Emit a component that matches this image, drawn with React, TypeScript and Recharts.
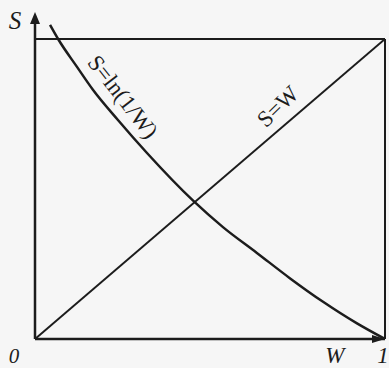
import React from "react";
import { LineChart, Line, XAxis, YAxis, ReferenceLine, ReferenceDot } from "recharts";

// curve S = ln(1/W) (W, S)
const curveW = [0.043, 0.066, 0.12, 0.166, 0.237, 0.32, 0.451, 0.537, 0.634, 0.729, 0.823, 0.92, 1];
const curveS = [1.047, 1.0, 0.907, 0.83, 0.73, 0.62, 0.462, 0.373, 0.287, 0.202, 0.124, 0.052, 0];

// straight line S = W
const diagW = [0, 1];
const diagS = [0, 1];

const curveData = curveW.map((w, i) => ({ w, s: curveS[i] }));
const diagData = diagW.map((w, i) => ({ w, s: diagS[i] }));

const INK = "#1c1c1c";
const SERIF = "'Liberation Serif', 'DejaVu Serif', serif";

function textShape(txt: string, size: number, angle = 0, italic = false) {
  return (p: { cx?: number; cy?: number }) => {
    const cx = p.cx ?? 0;
    const cy = p.cy ?? 0;
    return (
      <text
        x={cx}
        y={cy}
        textAnchor="middle"
        dominantBaseline="central"
        fontFamily={SERIF}
        fontSize={size}
        fontStyle={italic ? "italic" : "normal"}
        fill={INK}
        transform={angle ? `rotate(${angle}, ${cx}, ${cy})` : undefined}
      >
        {txt}
      </text>
    );
  };
}

const upArrow = (p: { cx?: number; cy?: number }) => {
  const cx = p.cx ?? 0;
  const cy = p.cy ?? 0;
  return <polygon points={`${cx},${cy} ${cx - 5},${cy + 12} ${cx + 5},${cy + 12}`} fill={INK} />;
};

const rightArrow = (p: { cx?: number; cy?: number }) => {
  const cx = p.cx ?? 0;
  const cy = p.cy ?? 0;
  return <polygon points={`${cx},${cy} ${cx - 13},${cy - 4} ${cx - 13},${cy + 4}`} fill={INK} />;
};

export default function App() {
  return (
    <div style={{ position: "absolute", left: 0, top: 0, width: 389, height: 368, background: "#f6f6f6" }}>
      <LineChart width={389} height={368} margin={{ top: 12, right: 4, bottom: 29, left: 35 }}>
        <XAxis type="number" dataKey="w" domain={[0, 1]} hide allowDataOverflow />
        <YAxis type="number" dataKey="s" domain={[0, 1.09]} hide allowDataOverflow />

        {/* axes and box */}
        <ReferenceLine segment={[{ x: 0, y: 0 }, { x: 0, y: 1.06 }]} stroke={INK} strokeWidth={2.5} ifOverflow="visible" />
        <ReferenceLine segment={[{ x: 0, y: 0 }, { x: 1, y: 0 }]} stroke={INK} strokeWidth={2.5} ifOverflow="visible" />
        <ReferenceLine segment={[{ x: 0, y: 1 }, { x: 1, y: 1 }]} stroke={INK} strokeWidth={2} ifOverflow="visible" />
        <ReferenceLine segment={[{ x: 1, y: 0 }, { x: 1, y: 1 }]} stroke={INK} strokeWidth={2} ifOverflow="visible" />
        <ReferenceDot x={0} y={1.09} r={0} shape={upArrow} ifOverflow="visible" />
        <ReferenceDot x={1} y={0} r={0} shape={rightArrow} ifOverflow="visible" />

        <Line data={diagData} dataKey="s" type="linear" stroke={INK} strokeWidth={2} dot={false} activeDot={false} isAnimationActive={false} />
        <Line data={curveData} dataKey="s" type="monotone" stroke={INK} strokeWidth={2.5} dot={false} activeDot={false} isAnimationActive={false} />

        {/* labels */}
        <ReferenceDot x={-0.057} y={1.063} r={0} shape={textShape("S", 25, 0, true)} ifOverflow="visible" />
        <ReferenceDot x={-0.06} y={-0.055} r={0} shape={textShape("0", 21, 0, true)} ifOverflow="visible" />
        <ReferenceDot x={0.857} y={-0.055} r={0} shape={textShape("W", 23, 0, true)} ifOverflow="visible" />
        <ReferenceDot x={0.994} y={-0.055} r={0} shape={textShape("1", 23, 0, true)} ifOverflow="visible" />
        <ReferenceDot x={0.251} y={0.807} r={0} shape={textShape("S=ln(1/W)", 23, 52)} ifOverflow="visible" />
        <ReferenceDot x={0.694} y={0.775} r={0} shape={textShape("S=W", 23, -44)} ifOverflow="visible" />
      </LineChart>
    </div>
  );
}
